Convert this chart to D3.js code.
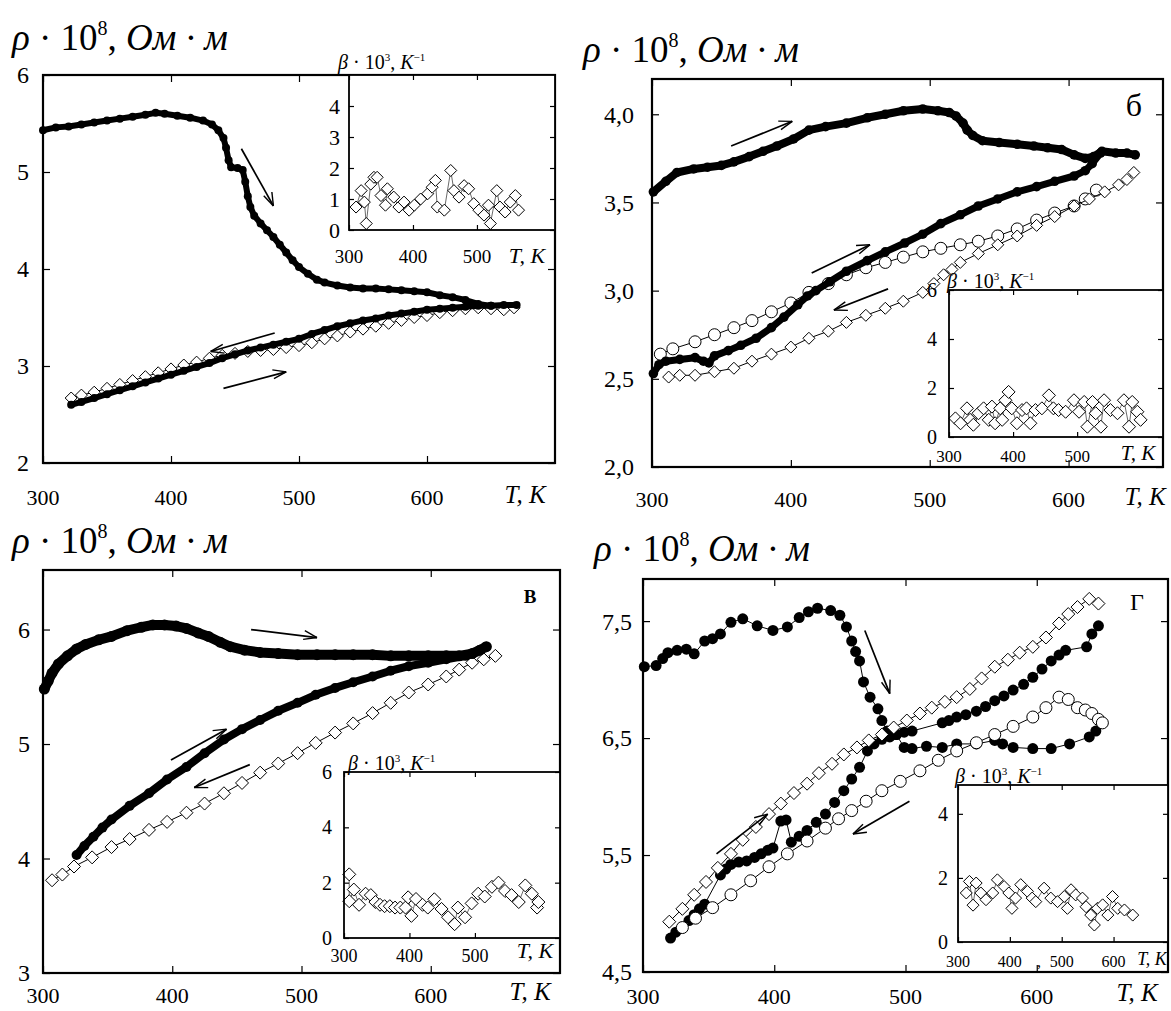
<!DOCTYPE html>
<html><head><meta charset="utf-8">
<script src="https://cdn.jsdelivr.net/npm/d3@7"></script>
<style>
body{margin:0;background:#fff}
svg{display:block}
text{font-family:"Liberation Serif","Times New Roman",serif;fill:#000}
</style>
</head><body>
<svg id="c" width="1171" height="1011"></svg>
<script>
// ---------- DATA (T in K, rho*1e8 in Ohm*m, beta*1e3 in 1/K) ----------
// panel а
const aHeatUpper=[[300,5.43],[310,5.46],[320,5.47],[330,5.49],[340,5.51],[350,5.53],[360,5.55],[370,5.57],[380,5.59],[388,5.61],[395,5.60],[405,5.58],[415,5.56],[425,5.53],[432,5.49],[437,5.43],[441,5.35],[443,5.25],[445,5.12],[447,5.05],[452,5.04],[456,5.02],[458,4.90],[460,4.75],[462,4.64],[465,4.55],[470,4.47],[475,4.40],[480,4.33],[485,4.25],[490,4.17],[495,4.09],[500,4.02],[507,3.95],[514,3.89],[520,3.86],[530,3.83],[540,3.81],[550,3.80],[560,3.80],[570,3.79],[580,3.78],[590,3.77],[600,3.76],[610,3.73],[620,3.71],[630,3.68],[640,3.64],[650,3.62],[660,3.63],[670,3.63]];
const aHeatLower=[[322,2.60],[330,2.63],[340,2.67],[350,2.71],[360,2.75],[370,2.79],[380,2.83],[390,2.87],[400,2.91],[410,2.95],[420,2.99],[430,3.03],[440,3.08],[450,3.12],[460,3.16],[470,3.19],[480,3.22],[490,3.25],[500,3.28],[510,3.33],[520,3.37],[530,3.41],[540,3.44],[550,3.47],[560,3.49],[570,3.52],[580,3.54],[590,3.56],[600,3.58],[610,3.59],[620,3.60],[630,3.61],[640,3.62],[650,3.62]];
const aCool=[[322,2.67],[330,2.70],[340,2.73],[350,2.77],[360,2.81],[370,2.85],[380,2.89],[390,2.93],[400,2.97],[410,3.01],[420,3.04],[430,3.08],[440,3.11],[450,3.13],[460,3.15],[470,3.16],[480,3.17],[490,3.19],[500,3.21],[510,3.24],[520,3.28],[530,3.31],[540,3.35],[550,3.38],[560,3.41],[570,3.44],[580,3.47],[590,3.50],[600,3.52],[610,3.55],[620,3.57],[630,3.59],[640,3.60],[650,3.59],[660,3.58],[668,3.60]];
const aArrows=[[455,5.24,480,4.65],[481,3.34,431,3.15],[441,2.77,490,2.94]];
const aInsetT=[311,319,324,327,334,339,344,350,357,360,370,378,386,394,402,412,423,430,435,438,449,459,464,472,480,487,495,503,511,518,521,531,536,544,552,560,565];
const aInsetB=[0.74,1.27,0.9,0.21,1.48,1.7,1.7,1.11,0.8,1.33,1.06,0.74,0.9,0.64,0.8,1.0,1.17,1.38,1.6,0.74,0.64,1.92,1.27,1.06,1.43,1.33,0.85,0.64,0.48,0.8,0.21,1.27,0.74,0.58,0.9,1.11,0.64];
// panel б
const bHeatUpper=[[301,3.56],[310,3.62],[318,3.67],[330,3.69],[340,3.70],[350,3.71],[359,3.73],[370,3.76],[380,3.79],[390,3.82],[402,3.86],[413,3.91],[425,3.93],[440,3.95],[455,3.98],[468,4.00],[481,4.02],[495,4.03],[506,4.02],[514,4.01],[519,3.99],[524,3.95],[527,3.91],[531,3.88],[538,3.85],[550,3.84],[563,3.83],[575,3.82],[585,3.81],[595,3.80],[604,3.77],[612,3.75],[618,3.76],[624,3.79],[634,3.78],[642,3.78],[648,3.77]];
const bHeatLower=[[301,2.53],[305,2.58],[310,2.60],[320,2.61],[331,2.62],[337,2.60],[341,2.59],[345,2.63],[355,2.66],[364,2.69],[375,2.73],[386,2.79],[395,2.85],[405,2.92],[412,2.97],[418,3.00],[428,3.05],[440,3.11],[455,3.17],[468,3.22],[482,3.27],[495,3.32],[508,3.38],[522,3.43],[535,3.48],[549,3.52],[563,3.56],[577,3.59],[590,3.62],[604,3.65],[612,3.68],[617,3.72],[623,3.78]];
const bCoolUpper=[[306,2.64],[315,2.67],[331,2.71],[345,2.75],[359,2.79],[372,2.83],[386,2.88],[400,2.93],[413,2.99],[427,3.04],[440,3.09],[454,3.13],[468,3.16],[481,3.19],[495,3.22],[508,3.24],[522,3.26],[535,3.28],[549,3.31],[563,3.35],[577,3.40],[590,3.44],[604,3.48],[612,3.52],[620,3.57]];
const bCoolLower=[[312,2.51],[320,2.52],[331,2.52],[345,2.54],[359,2.56],[372,2.60],[386,2.64],[400,2.68],[413,2.73],[427,2.77],[440,2.82],[454,2.86],[468,2.90],[481,2.94],[495,2.99],[503,3.04],[510,3.09],[516,3.12],[522,3.16],[535,3.21],[549,3.26],[563,3.31],[577,3.37],[590,3.42],[604,3.48],[615,3.52],[626,3.56],[636,3.60],[642,3.63],[647,3.67]];
const bArrows=[[357,3.82,401,3.96],[415,3.10,457,3.26],[470,3.01,431,2.89]];
const bInsetT=[310,318,328,333,338,346,354,362,367,372,380,383,388,393,398,406,414,421,427,435,445,456,463,471,482,495,503,511,516,524,529,537,542,552,563,573,581,586,594,599];
const bInsetB=[0.76,0.56,1.17,0.7,0.5,0.97,1.17,0.7,1.24,0.56,1.17,0.7,1.5,1.84,1.17,0.56,1.1,1.17,0.56,1.1,1.17,1.7,1.17,1.1,1.03,1.5,1.03,1.43,0.42,1.43,0.97,0.42,1.5,1.1,0.97,1.5,0.42,1.43,1.03,0.7];
// panel в
const vHeatUpper=[[301,5.48],[304,5.55],[307,5.62],[312,5.70],[319,5.77],[326,5.83],[333,5.87],[343,5.91],[353,5.94],[365,5.99],[376,6.02],[385,6.04],[394,6.04],[403,6.03],[411,6.01],[420,5.97],[428,5.94],[437,5.89],[445,5.85],[456,5.82],[468,5.80],[482,5.79],[497,5.78],[512,5.78],[526,5.78],[540,5.78],[555,5.78],[569,5.77],[583,5.77],[598,5.77],[612,5.77],[622,5.77],[632,5.79],[638,5.82],[643,5.85]];
const vHeatLower=[[326,4.03],[332,4.11],[339,4.19],[346,4.27],[353,4.34],[367,4.46],[382,4.57],[396,4.69],[411,4.80],[425,4.92],[440,5.04],[454,5.13],[468,5.21],[482,5.29],[497,5.36],[511,5.43],[526,5.49],[540,5.54],[555,5.59],[569,5.64],[583,5.68],[598,5.71],[612,5.74],[627,5.77]];
const vCool=[[307,3.81],[315,3.86],[324,3.93],[338,4.01],[353,4.10],[367,4.17],[382,4.25],[396,4.32],[411,4.40],[425,4.48],[440,4.57],[454,4.66],[468,4.75],[482,4.83],[497,4.92],[511,5.01],[526,5.10],[540,5.18],[555,5.27],[569,5.36],[583,5.45],[598,5.52],[612,5.59],[622,5.65],[632,5.71],[641,5.74],[650,5.77]];
const vArrows=[[461,6.0,512,5.93],[399,4.86,442,5.13],[460,4.82,417,4.62]];
const vInsetT=[308,308,315,323,333,341,348,355,362,370,378,386,394,398,403,410,420,428,438,449,459,469,474,485,495,505,515,526,536,546,556,567,577,587,595,597];
const vInsetB=[2.3,1.33,1.75,1.2,1.6,1.55,1.3,1.2,1.15,1.15,1.1,1.1,1.1,1.47,0.8,1.41,1.2,1.1,1.4,1.05,0.75,0.5,1.1,0.75,1.25,1.6,1.5,1.85,2.0,1.7,1.55,1.3,1.9,1.6,1.1,1.3];
// panel г
const gHeatUpper=[[301,7.11],[310,7.12],[315,7.18],[319,7.23],[326,7.25],[333,7.26],[339,7.22],[347,7.33],[353,7.35],[359,7.39],[367,7.49],[376,7.52],[387,7.46],[399,7.42],[410,7.45],[419,7.53],[426,7.58],[433,7.61],[443,7.59],[450,7.55],[455,7.45],[459,7.33],[462,7.24],[465,7.16],[468,6.98],[473,6.85],[479,6.75],[482,6.65],[486,6.56],[493,6.53],[499,6.42],[505,6.41],[516,6.43],[528,6.42],[539,6.45],[554,6.45],[568,6.48],[574,6.45],[582,6.42],[597,6.41],[611,6.41],[625,6.45],[640,6.51],[645,6.56],[650,6.63]];
const gHeatLower=[[321,4.79],[325,4.84],[330,4.88],[335,4.94],[339,4.99],[343,5.04],[347,5.08],[359,5.33],[363,5.38],[367,5.42],[373,5.44],[379,5.45],[385,5.48],[390,5.51],[395,5.54],[399,5.56],[405,5.79],[409,5.80],[413,5.61],[419,5.66],[425,5.71],[432,5.78],[439,5.85],[446,5.95],[453,6.05],[459,6.15],[465,6.25],[471,6.39],[476,6.45],[482,6.49],[488,6.51],[493,6.53],[499,6.55],[505,6.56],[528,6.63],[533,6.65],[539,6.68],[546,6.70],[554,6.73],[561,6.77],[568,6.82],[575,6.86],[582,6.91],[590,6.96],[597,7.02],[604,7.09],[611,7.16],[617,7.21],[622,7.25],[638,7.28],[642,7.39],[647,7.46]];
const gCoolUpper=[[320,4.93],[330,5.04],[339,5.16],[348,5.27],[357,5.39],[367,5.51],[376,5.63],[386,5.74],[396,5.85],[405,5.94],[415,6.03],[425,6.11],[434,6.20],[444,6.28],[453,6.36],[463,6.42],[472,6.48],[482,6.53],[491,6.59],[501,6.65],[511,6.71],[520,6.76],[530,6.81],[539,6.85],[549,6.92],[558,7.01],[568,7.11],[578,7.17],[587,7.23],[597,7.28],[607,7.36],[617,7.48],[624,7.56],[631,7.62],[640,7.69],[647,7.65]];
const gCoolLower=[[330,4.88],[340,4.96],[353,5.05],[367,5.16],[382,5.28],[396,5.40],[410,5.51],[425,5.62],[439,5.73],[449,5.81],[459,5.88],[470,5.96],[482,6.05],[496,6.13],[511,6.22],[525,6.31],[539,6.39],[554,6.46],[568,6.53],[582,6.60],[597,6.68],[607,6.76],[617,6.85],[624,6.83],[631,6.76],[637,6.74],[642,6.71],[647,6.66],[650,6.63]];
const gArrows=[[469,7.42,488,6.88],[356,5.51,395,5.85],[503,5.96,460,5.68]];
const gInsetT=[316,322,329,335,344,354,367,376,389,398,404,411,421,434,443,450,466,479,492,505,511,518,527,540,547,556,563,569,579,589,598,608,621,637];
const gInsetB=[1.53,1.89,1.15,1.84,1.53,1.32,1.53,1.94,1.73,1.53,1.05,1.37,1.79,1.58,1.37,1.26,1.68,1.37,1.26,1.42,1.05,1.63,1.47,1.37,1.10,0.84,0.53,1.05,1.16,0.84,1.42,1.05,1.0,0.84];
// tick labels
const mainXTicks=[300,400,500,600];
const aYTicks=["2","3","4","5","6"];
const bYTicks=["2,0","2,5","3,0","3,5","4,0"];
const vYTicks=["3","4","5","6"];
const gYTicks=["4,5","5,5","6,5","7,5"];
const aInsetYTicks=["0","1","2","3","4"];
const bvInsetYTicks=["0","2","4","6"];
const gInsetYTicks=["0","2","4"];
const insetXTicks=[300,400,500];
const gInsetXTicks=[300,400,500,600];
const panelLetters=["а","б","В","Г"];

// ---------- DRAW ----------
const svg=d3.select('#c');
const num=s=>+s.replace(',','.');

function marker(g,type,px,py,r){
  if(type==='filled') g.append('circle').attr('cx',px).attr('cy',py).attr('r',r).attr('fill','#000');
  else if(type==='circle') g.append('circle').attr('cx',px).attr('cy',py).attr('r',r).attr('fill','#fff').attr('stroke','#000').attr('stroke-width',1);
  else g.append('path').attr('d',`M${px},${py-r}L${px+r},${py}L${px},${py+r}L${px-r},${py}Z`).attr('fill','#fff').attr('stroke','#000').attr('stroke-width',1);
}

function axesFrame(g,x,y,box,xt,yt,o){
  const [x0,x1,y0,y1]=box;
  const tl=o.tick;
  g.append('g').attr('transform',`translate(0,${y1})`).call(d3.axisBottom(x).tickValues(xt).tickSizeInner(-tl).tickSizeOuter(0).tickFormat(''));
  g.append('g').attr('transform',`translate(0,${y0})`).call(d3.axisTop(x).tickValues(xt).tickSizeInner(-tl).tickSizeOuter(0).tickFormat(''));
  g.append('g').attr('transform',`translate(${x0},0)`).call(d3.axisLeft(y).tickValues(yt.map(num)).tickSizeInner(-tl).tickSizeOuter(0).tickFormat(''));
  g.append('g').attr('transform',`translate(${x1},0)`).call(d3.axisRight(y).tickValues(yt.map(num)).tickSizeInner(-tl).tickSizeOuter(0).tickFormat(''));
  g.selectAll('.domain').remove();
  g.selectAll('.tick line').attr('stroke','#000').attr('stroke-width',1.2);
  g.append('rect').attr('x',x0).attr('y',y0).attr('width',x1-x0).attr('height',y1-y0).attr('fill','none').attr('stroke','#000').attr('stroke-width',o.bw);
  xt.forEach(v=>g.append('text').attr('x',x(v)+(o.xlo||0)).attr('y',o.xly).attr('text-anchor','middle').attr('font-size',o.xfs).text(v));
  yt.forEach(s=>g.append('text').attr('x',o.ylx).attr('y',y(num(s))).attr('dy','0.35em').attr('text-anchor','end').attr('font-size',o.yfs).text(s));
  g.append('text').attr('x',o.tkx).attr('y',o.tky).attr('text-anchor','middle').attr('font-size',o.tkfs).attr('font-style','italic').text('T, K');
}

function rhoTitle(x0,yb){
  const t=svg.append('text').attr('x',x0).attr('y',yb).attr('font-size',37);
  t.append('tspan').attr('font-style','italic').text('ρ');
  t.append('tspan').text(' · 10');
  t.append('tspan').attr('dy',-15).attr('font-size',20).text('8');
  t.append('tspan').attr('dy',15).text(', ');
  t.append('tspan').attr('font-style','italic').text('Ом · м');
}
function betaTitle(x0,yb,fs){
  const t=svg.append('text').attr('x',x0).attr('y',yb).attr('font-size',fs);
  t.append('tspan').attr('font-style','italic').text('β');
  t.append('tspan').text(' · 10');
  t.append('tspan').attr('dy',-fs*0.4).attr('font-size',fs*0.55).text('3');
  t.append('tspan').attr('dy',fs*0.4).text(', ');
  t.append('tspan').attr('font-style','italic').text('K');
  t.append('tspan').attr('dy',-fs*0.4).attr('font-size',fs*0.55).text('−1');
}

function arrow(g,x,y,a){
  const X1=x(a[0]),Y1=y(a[1]),X2=x(a[2]),Y2=y(a[3]);
  g.append('line').attr('x1',X1).attr('y1',Y1).attr('x2',X2).attr('y2',Y2).attr('stroke','#000').attr('stroke-width',1.7);
  const ang=Math.atan2(Y2-Y1,X2-X1),L=14;
  [0.4,-0.25].forEach(d=>{
    g.append('line').attr('x1',X2).attr('y1',Y2).attr('x2',X2-L*Math.cos(ang+d)).attr('y2',Y2-L*Math.sin(ang+d)).attr('stroke','#000').attr('stroke-width',1.4);
  });
}

function panel(p){
  const [x0,x1,y0,y1]=p.box;
  const x=d3.scaleLinear().domain(p.xd).range([x0,x1]);
  const y=d3.scaleLinear().domain(p.yd).range([y1,y0]);
  const g=svg.append('g');
  const line=d3.line().x(d=>x(d[0])).y(d=>y(d[1]));
  p.series.forEach(s=>{
    g.append('path').attr('d',line(s.data)).attr('fill','none').attr('stroke','#000').attr('stroke-width',s.lw).attr('stroke-linejoin','round').attr('stroke-linecap','round');
    s.data.forEach(d=>marker(g,s.type,x(d[0]),y(d[1]),s.r));
  });
  p.arrows.forEach(a=>arrow(g,x,y,a));
  axesFrame(g,x,y,p.box,mainXTicks,p.yt,{tick:7,bw:2.2,xly:p.xly,xfs:22,ylx:p.ylx,yfs:24,tkx:p.tk[0],tky:p.tk[1],tkfs:25});
  rhoTitle(p.title[0],p.title[1]);
  const L=svg.append('text').attr('x',p.letter[0]).attr('y',p.letter[1]).attr('text-anchor','middle').attr('font-size',p.letter[2]).text(p.letter[3]);
  if(p.letter[4]) L.attr('font-weight','bold');
  const q=p.inset;
  const [u0,u1,v0,v1]=q.box;
  const ix=d3.scaleLinear().domain(q.xd).range([u0,u1]);
  const iy=d3.scaleLinear().domain(q.yd).range([v1,v0]);
  const ig=svg.append('g');
  ig.append('rect').attr('x',u0).attr('y',v0).attr('width',u1-u0).attr('height',v1-v0).attr('fill','#fff');
  const pts=q.T.map((t,i)=>[t,q.B[i]]);
  ig.append('path').attr('d',d3.line().x(d=>ix(d[0])).y(d=>iy(d[1]))(pts)).attr('fill','none').attr('stroke','#444').attr('stroke-width',0.8);
  pts.forEach(d=>marker(ig,'diamond',ix(d[0]),iy(d[1]),q.r));
  axesFrame(ig,ix,iy,q.box,q.xt,q.yt,{tick:5,bw:1.8,xly:q.xly,xfs:q.xfs,ylx:q.ylx,yfs:q.yfs,tkx:q.tk[0],tky:q.tk[1],tkfs:q.tkfs});
  betaTitle(q.title[0],q.title[1],q.tfs);
  if(q.extra) ig.append('text').attr('x',q.extra[0]).attr('y',q.extra[1]).attr('font-size',q.xfs).text(q.extra[2]);
}

panel({box:[43,555,75,463],xd:[300,700],yd:[2,6],yt:aYTicks,xly:505,ylx:29,tk:[525,503],title:[12,50],
  letter:[536,106,30,panelLetters[0],false],arrows:aArrows,
  series:[{data:aCool,type:'diamond',r:6,lw:1},{data:aHeatLower,type:'filled',r:4,lw:6},{data:aHeatUpper,type:'filled',r:4,lw:6}],
  inset:{box:[349,555,75,230],xd:[300,622],yd:[0,5],xt:insetXTicks,yt:aInsetYTicks,T:aInsetT,B:aInsetB,r:6,xly:263,xfs:19,ylx:340,yfs:22,tk:[527,263],tkfs:22,title:[338,69],tfs:20}});

panel({box:[652,1163,79,467],xd:[300,668],yd:[2.0,4.2],yt:bYTicks,xly:507,ylx:634,tk:[1145,505],title:[583,62],
  letter:[1134,116,32,panelLetters[1],false],arrows:bArrows,
  series:[{data:bCoolUpper,type:'circle',r:6,lw:1},{data:bCoolLower,type:'diamond',r:6,lw:1},{data:bHeatLower,type:'filled',r:4.8,lw:7},{data:bHeatUpper,type:'filled',r:4.8,lw:8}],
  inset:{box:[949,1163,290,437],xd:[300,634],yd:[0,6],xt:insetXTicks,yt:bvInsetYTicks,T:bInsetT,B:bInsetB,r:6.5,xly:462,xfs:17,ylx:937,yfs:20,tk:[1138,460],tkfs:21,title:[947,288],tfs:20}});

panel({box:[43,560,570,973],xd:[300,700],yd:[3,6.52],yt:vYTicks,xly:1003,ylx:30,tk:[530,1000],title:[12,553],
  letter:[530,603,19,panelLetters[2],true],arrows:vArrows,
  series:[{data:vCool,type:'diamond',r:6.5,lw:1},{data:vHeatLower,type:'filled',r:5,lw:8},{data:vHeatUpper,type:'filled',r:5.5,lw:10}],
  inset:{box:[344,560,772,938],xd:[300,630],yd:[0,6],xt:insetXTicks,yt:bvInsetYTicks,T:vInsetT,B:vInsetB,r:6.5,xly:962,xfs:18,ylx:332,yfs:20,tk:[535,958],tkfs:22,title:[348,770],tfs:20}});

panel({box:[643,1168,579,972],xd:[300,700],yd:[4.5,7.86],yt:gYTicks,xly:1004,ylx:632,tk:[1137,1001],title:[594,561],
  letter:[1137,610,24,panelLetters[3],false],arrows:gArrows,
  series:[{data:gHeatLower,type:'filled',r:5.5,lw:1},{data:gHeatUpper,type:'filled',r:5.5,lw:1},{data:gCoolUpper,type:'diamond',r:6.5,lw:1},{data:gCoolLower,type:'circle',r:6,lw:1}],
  inset:{box:[958,1168,785,942],xd:[300,705],yd:[0,4.9],xt:gInsetXTicks,yt:gInsetYTicks,T:gInsetT,B:gInsetB,r:6,xly:967,xfs:16,ylx:948,yfs:20,tk:[1152,965],tkfs:18,title:[955,783],tfs:20,extra:[1037,967,',']}});
</script>
</body></html>
